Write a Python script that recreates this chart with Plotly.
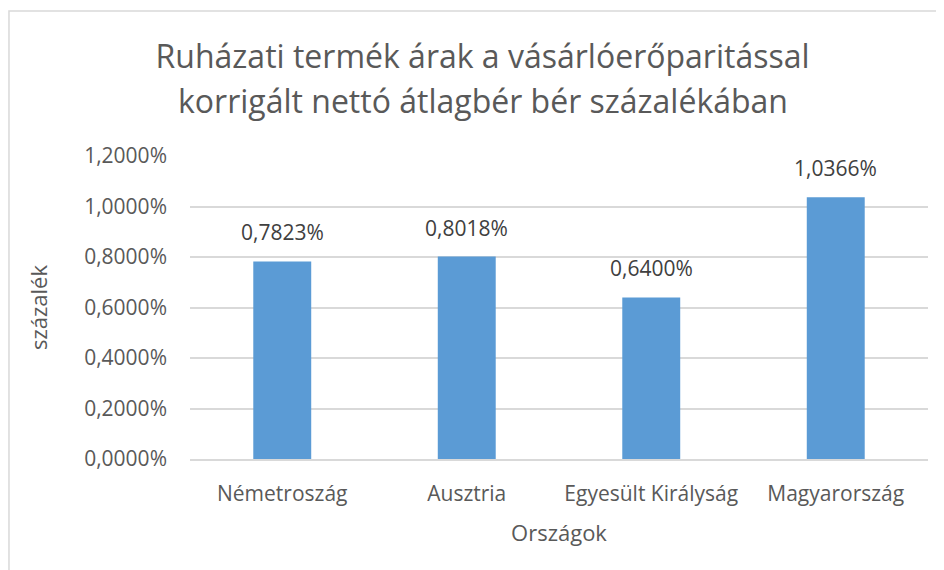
import plotly.graph_objects as go

countries = ["Németroszág", "Ausztria", "Egyesült Királyság", "Magyarország"]
values = [0.007823, 0.008018, 0.0064, 0.010366]
y_ticks = [0, 0.002, 0.004, 0.006, 0.008, 0.010, 0.012]
title_lines = ["Ruházati termék árak a vásárlóerőparitással",
               "korrigált nettó átlagbér bér százalékában"]

FONT = "Open Sans"
GRAY = "#595959"

fig = go.Figure(go.Bar(
    x=countries, y=values,
    marker=dict(color="#5B9BD5", line=dict(width=0)),
    width=0.314, hoverinfo="x+y",
))

for c, v in zip(countries, values):
    fig.add_annotation(
        x=c, y=v, xref="x", yref="y",
        text=f"{v*100:.4f}%".replace(".", ","),
        showarrow=False, yanchor="bottom", yshift=13,
        font=dict(family=FONT, size=21, color="#404040"),
    )

# second title line (keeps Excel-like line spacing)
fig.add_annotation(
    x=0.5027 * 944 / 738 - 182 / 738, y=(451 - 92) / 303,
    xref="paper", yref="paper",
    text=title_lines[1], showarrow=False, xanchor="center", yanchor="middle",
    font=dict(family=FONT, size=32, color=GRAY),
)

fig.update_layout(
    width=944, height=570,
    margin=dict(l=182, r=24, t=148, b=119, autoexpand=False),
    paper_bgcolor="white", plot_bgcolor="white",
    separators=",.",
    showlegend=False,
    title=dict(
        text=title_lines[0],
        x=0.5027, xanchor="center", y=1 - 49 / 570, yanchor="middle",
        font=dict(family=FONT, size=32, color=GRAY),
    ),
    xaxis=dict(
        title=dict(text="Országok", font=dict(family=FONT, size=22, color=GRAY), standoff=20),
        tickfont=dict(family=FONT, size=21, color=GRAY),
        showline=True, linecolor="#D9D9D9", linewidth=1.5,
        ticks="", showgrid=False, ticklabelstandoff=15,
    ),
    yaxis=dict(
        title=dict(text="százalék", font=dict(family=FONT, size=22, color=GRAY), standoff=30),
        tickfont=dict(family=FONT, size=21, color=GRAY),
        range=[0, 0.012], tickvals=y_ticks, tickformat=".4%",
        showgrid=True, gridcolor="#D9D9D9", gridwidth=1.5,
        zeroline=False, ticks="", ticklen=0, ticklabelstandoff=22,
    ),
    shapes=[dict(
        type="rect", xref="paper", yref="paper",
        x0=-0.2453, x1=1.2, y0=-0.6, y1=1.4785,
        line=dict(color="#D9D9D9", width=1.5), fillcolor="rgba(0,0,0,0)", layer="below",
    )],
)

fig.write_html("out.html")
